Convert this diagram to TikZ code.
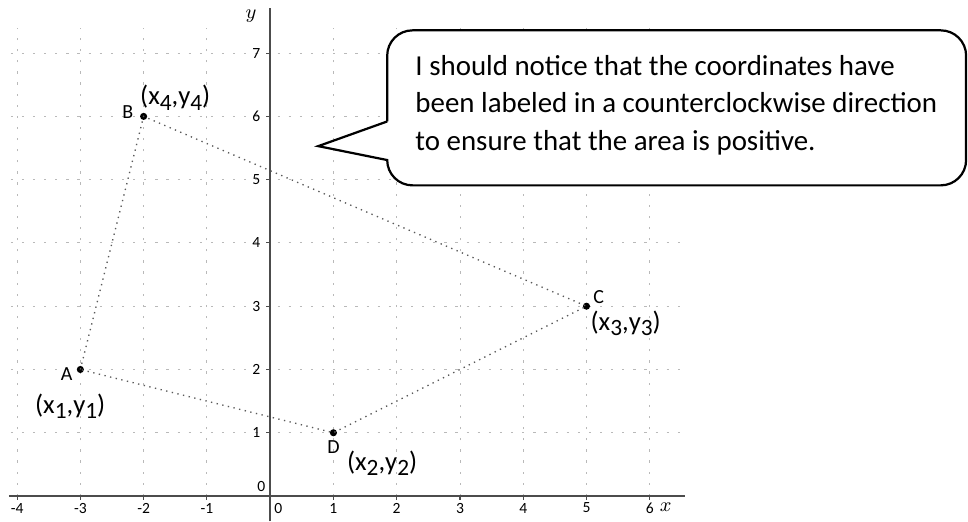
\documentclass[tikz,border=0pt]{standalone}
\usepackage{fontspec}
\setmainfont{Carlito}
\setsansfont{Carlito}
\usetikzlibrary{positioning}
\newcommand{\lowsub}[1]{\raisebox{-0.45ex}{\fontsize{10.5}{12}\selectfont #1}}

\begin{document}
\begin{tikzpicture}[
  gridline/.style={gray!55, line width=0.4pt, dash pattern=on 1pt off 4pt},
  edge/.style={gray!70!black, line width=0.6pt, dotted},
  axis/.style={black!70, line width=0.8pt},
  ticklabel/.style={font=\fontsize{7}{8}\selectfont, inner sep=1pt},
  vertex/.style={circle, fill=black, inner sep=0pt, minimum size=3.2pt},
  ptlabel/.style={font=\fontsize{9}{10}\selectfont, inner sep=1pt},
  coordlabel/.style={font=\fontsize{12}{14}\selectfont, inner sep=0pt},
  callout/.style={draw=black, line width=1pt, fill=white}
]
\useasboundingbox (-4.27,-0.40) rectangle (11.03,7.84);

% grid
\foreach \x in {-4,...,6}
  \draw[gridline] (\x,0) -- (\x,7.4);
\foreach \y in {1,...,7}
  \draw[gridline] (-4.1,\y) -- (6.55,\y);

% axes
\draw[axis] (-4.13,0) -- (6.55,0);
\draw[axis] (0,-0.40) -- (0,7.72);
\foreach \x in {-4,...,-1,1,2,3,4,5,6} {
  \draw[axis, line width=0.5pt] (\x,0) -- (\x,-0.07);
  \node[ticklabel] (tx\x) at (\x,-0.19) {\x};
}
\foreach \y in {1,...,7} {
  \draw[axis, line width=0.5pt] (0,\y) -- (-0.07,\y);
  \node[ticklabel] (ty\y) at (-0.22,\y) {\y};
}
\node[ticklabel] (tx0) at (0.13,-0.19) {0};
\node[ticklabel] (ty0) at (-0.14,0.15) {0};
\node[ticklabel, font=\fontsize{9}{10}\selectfont] (xlab) at (6.25,-0.18) {$x$};
\node[ticklabel, font=\fontsize{9}{10}\selectfont] (ylab) at (-0.3,7.58) {$y$};

% quadrilateral ABCD
\node[vertex] (A) at (-3,2) {};
\node[vertex] (B) at (-2,6) {};
\node[vertex] (C) at (5,3) {};
\node[vertex] (D) at (1,1) {};
\draw[edge] (A.center) -- (B.center) -- (C.center) -- (D.center) -- cycle;

\node[ptlabel, left=0.02 of A, yshift=-2pt] (lblA) {A};
\node[ptlabel, left=0.06 of B, yshift=2pt] (lblB) {B};
\node[ptlabel, above right=-0.05 and 0.02 of C] (lblC) {C};
\node[ptlabel, below=0.02 of D] (lblD) {D};

\node[coordlabel] (pB) at (-1.50,6.30) {(x\lowsub{4},y\lowsub{4})};
\node[coordlabel] (pA) at (-3.16,1.42) {(x\lowsub{1},y\lowsub{1})};
\node[coordlabel] (pD) at (1.77,0.52) {(x\lowsub{2},y\lowsub{2})};
\node[coordlabel] (pC) at (5.62,2.73) {(x\lowsub{3},y\lowsub{3})};

% speech bubble
\draw[callout] (1.85,5.92) [sharp corners] -- (0.76,5.53) -- (1.85,5.31)
  [rounded corners=0.4cm] -- (1.85,4.91) -- (11.0,4.91) -- (11.0,7.36)
  -- (1.85,7.36) -- (1.85,5.92);
\node[anchor=north west, inner sep=0pt, align=left,
  font=\fontsize{13}{16.8}\selectfont] (note) at (2.29,6.97)
  {I should notice that the coordinates have\\
   been labeled in a counterclockwise direction\\
   to ensure that the area is positive.};
\end{tikzpicture}
\end{document}
